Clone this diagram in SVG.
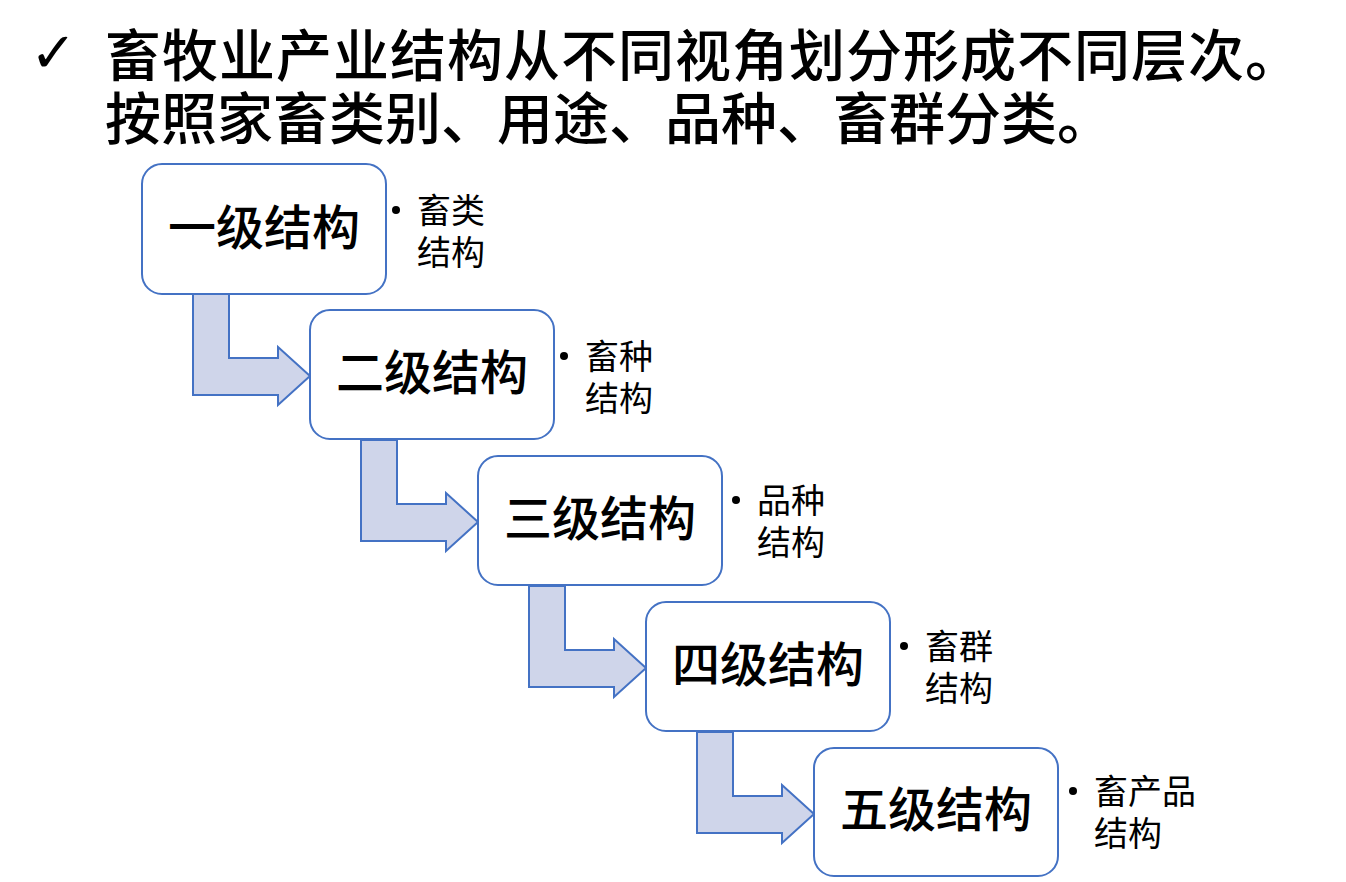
<svg xmlns="http://www.w3.org/2000/svg" width="1346" height="882" viewBox="0 0 1346 882">
<style>
.box{fill:#fff;stroke:#4472C4;stroke-width:2}
.arr{fill:#CFD5EA;stroke:#4472C4;stroke-width:2;stroke-linejoin:miter}
.bt{font-family:"Noto Sans CJK SC","Noto Sans",sans-serif;font-size:48px;font-weight:500;text-anchor:middle;fill:#000}
.st{font-family:"Noto Sans CJK SC","Noto Sans",sans-serif;font-size:34px;fill:#000}
.tt{font-family:"Noto Sans CJK SC","Noto Sans",sans-serif;font-size:56px;font-weight:500;fill:#000}
</style>
<defs>
<path id="ar" d="M193,294 L229,294 L229,358 L278,358 L278,347 L310,376 L278,405 L278,395 L193,395 Z"/>
</defs>
<rect width="1346" height="882" fill="#fff"/>
<g id="title">
<text x="30" y="72" style="font-family:'DejaVu Sans',sans-serif;font-size:56px;font-weight:bold">✓</text>
<text class="tt" x="105" y="76" letter-spacing="1">畜牧业产业结构从不同视角划分形成不同层次。</text>
<text class="tt" x="105" y="139">按照家畜类别、用途、品种、畜群分类。</text>
</g>
<g id="connectors">
<use href="#ar" class="arr"/>
<use href="#ar" class="arr" transform="translate(168,146)"/>
<use href="#ar" class="arr" transform="translate(336,292)"/>
<use href="#ar" class="arr" transform="translate(504,438)"/>
</g>
<g id="n1">
<rect class="box" x="142" y="164" width="244" height="130" rx="20"/>
<text class="bt" x="264" y="245">一级结构</text>
<circle cx="396" cy="210" r="4"/>
<text class="st" x="417" y="223">畜类</text>
<text class="st" x="417" y="265">结构</text>
</g>
<g id="n2">
<rect class="box" x="310" y="310" width="244" height="129" rx="20"/>
<text class="bt" x="432" y="390">二级结构</text>
<circle cx="564" cy="356" r="4"/>
<text class="st" x="585" y="369">畜种</text>
<text class="st" x="585" y="411">结构</text>
</g>
<g id="n3">
<rect class="box" x="478" y="456" width="244" height="129" rx="20"/>
<text class="bt" x="600" y="536">三级结构</text>
<circle cx="736" cy="500" r="4"/>
<text class="st" x="757" y="513">品种</text>
<text class="st" x="757" y="555">结构</text>
</g>
<g id="n4">
<rect class="box" x="646" y="602" width="244" height="129" rx="20"/>
<text class="bt" x="768" y="682">四级结构</text>
<circle cx="904" cy="646" r="4"/>
<text class="st" x="925" y="659">畜群</text>
<text class="st" x="925" y="701">结构</text>
</g>
<g id="n5">
<rect class="box" x="814" y="748" width="244" height="128" rx="20"/>
<text class="bt" x="936" y="827">五级结构</text>
<circle cx="1073" cy="791" r="4"/>
<text class="st" x="1094" y="804">畜产品</text>
<text class="st" x="1094" y="846">结构</text>
</g>
</svg>
